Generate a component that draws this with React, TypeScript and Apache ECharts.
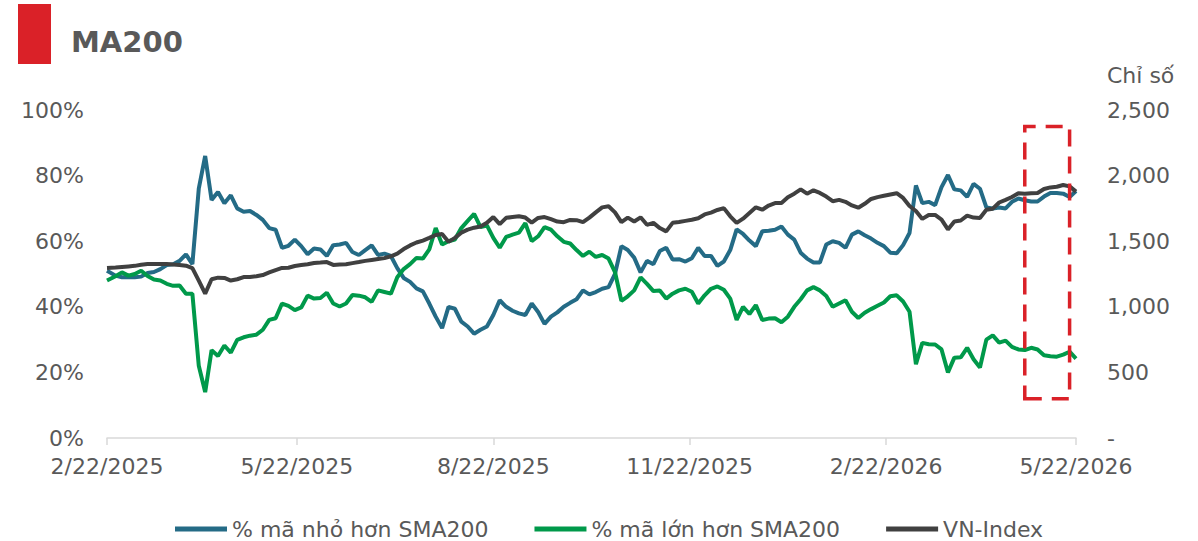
import React, { useEffect, useRef } from "react";
import * as echarts from "echarts";

const TITLE = "MA200";
const RIGHT_AXIS_NAME = "Chỉ số";
const SERIES_NAMES = ["% mã nhỏ hơn SMA200", "% mã lớn hơn SMA200", "VN-Index"];
const TICK_DATES = ["2025-02-22", "2025-05-22", "2025-08-22", "2025-11-22", "2026-02-22", "2026-05-22"];
const HIGHLIGHT = { from: "2026-04-28", to: "2026-05-19", low: 12, high: 95 };

const dates = [
  "2025-02-22","2025-02-26","2025-03-01","2025-03-04","2025-03-07","2025-03-10","2025-03-13","2025-03-16","2025-03-19","2025-03-22",
  "2025-03-25","2025-03-28","2025-03-31","2025-04-03","2025-04-06","2025-04-09","2025-04-12","2025-04-15","2025-04-18","2025-04-21",
  "2025-04-24","2025-04-27","2025-04-30","2025-05-03","2025-05-06","2025-05-09","2025-05-12","2025-05-15","2025-05-18","2025-05-21",
  "2025-05-24","2025-05-27","2025-05-30","2025-06-02","2025-06-05","2025-06-08","2025-06-11","2025-06-14","2025-06-17","2025-06-20",
  "2025-06-23","2025-06-26","2025-06-29","2025-07-02","2025-07-05","2025-07-08","2025-07-11","2025-07-14","2025-07-17","2025-07-20",
  "2025-07-23","2025-07-26","2025-07-29","2025-08-01","2025-08-04","2025-08-07","2025-08-10","2025-08-13","2025-08-16","2025-08-19",
  "2025-08-22","2025-08-25","2025-08-28","2025-08-31","2025-09-03","2025-09-06","2025-09-09","2025-09-12","2025-09-15","2025-09-18",
  "2025-09-21","2025-09-24","2025-09-27","2025-09-30","2025-10-03","2025-10-06","2025-10-09","2025-10-12","2025-10-15","2025-10-18",
  "2025-10-21","2025-10-24","2025-10-27","2025-10-30","2025-11-02","2025-11-05","2025-11-08","2025-11-11","2025-11-14","2025-11-17",
  "2025-11-20","2025-11-23","2025-11-26","2025-11-29","2025-12-02","2025-12-05","2025-12-08","2025-12-11","2025-12-14","2025-12-17",
  "2025-12-20","2025-12-23","2025-12-26","2025-12-29","2026-01-01","2026-01-04","2026-01-07","2026-01-10","2026-01-13","2026-01-16",
  "2026-01-19","2026-01-22","2026-01-25","2026-01-28","2026-01-31","2026-02-03","2026-02-06","2026-02-09","2026-02-12","2026-02-15",
  "2026-02-18","2026-02-21","2026-02-24","2026-02-27","2026-03-02","2026-03-05","2026-03-08","2026-03-11","2026-03-14","2026-03-17",
  "2026-03-20","2026-03-23","2026-03-26","2026-03-29","2026-04-01","2026-04-04","2026-04-07","2026-04-10","2026-04-13","2026-04-16",
  "2026-04-19","2026-04-22","2026-04-25","2026-04-28","2026-05-01","2026-05-04","2026-05-07","2026-05-10","2026-05-13","2026-05-16",
  "2026-05-19","2026-05-22",
];

const belowSma = [
  51,49.5,49,49,49,49.2,50.3,50.6,51.5,52.7,
  53,54,56,53,76,86,72.6,75,71.6,74,
  70,69,69.2,68,66.5,64,63.5,58,58.6,60.5,
  58.5,56,57.8,57.5,55.5,58.8,59,59.5,56.7,55.8,
  57.3,58.7,55.8,56.2,55.5,51.8,48.8,47.6,45.6,44.7,
  41,37,33.5,40,39.4,35.5,34,31.8,33,34,
  37.5,42,40,38.8,38,37.5,41,38.4,34.8,37,
  38.3,40,41.2,42.3,45,43.8,44.5,45.5,46,50,
  58.5,57.3,55,50.5,54,53,57,58,54.4,54.5,
  53.8,54.8,58,55.5,55.5,52.5,53.8,57.3,63.6,62.2,
  60.2,58.5,63,63.2,63.5,64.5,62,60.5,56.5,54.7,
  53.5,53.5,59,60,59.5,58,62,63,61.8,60.8,
  59.5,58.5,56.5,56.3,58.8,62.5,77,71.6,72,71,
  76.5,80.2,75.8,75.5,73.5,77.5,76,70.3,70,70.3,
  70,72,73,72.5,72.1,72.1,73.6,74.7,74.7,74.5,
  73.5,75.3,
];

const aboveSma = [
  48,49.3,50.5,49.5,50,51,49.4,48.3,48,47,
  46.4,46.5,44,44,22,14,26.8,25,28.2,26,
  29.9,30.7,31.2,31.5,33,36,36.5,41,40.3,39,
  39.8,43.4,42.5,42.7,44.3,41,40.1,41,43.6,43.4,
  42.9,41.5,45,44.5,44,49,51.5,53,54.9,54.7,
  57.5,64,59,60,60.5,64,66.2,68.3,64.3,64.8,
  61,58,61.3,62,62.6,65.5,60,61.5,64.3,63.5,
  61.5,59.8,59.3,57.3,55.5,56.8,55.2,55.8,54.7,50.6,
  41.8,43.2,45,49,47,44.8,45,42.5,44,45,
  45.5,44.6,41,43.5,45.5,46.2,45.2,42.5,36,40,
  37.8,40.5,36,36.4,36.5,35.3,37,40,42.3,45,
  46,45,43.3,40,41,42,38.5,36.6,38.2,39.3,
  40.3,41.3,43.2,43.5,41.6,38.5,22.5,29,28.6,28.5,
  27,20,24.5,24.6,27.5,24,21.5,30,31.3,29.1,
  29.7,27.8,27,26.8,27.5,27,25.2,24.9,24.8,25.4,
  26.3,24.2,
];

const vnIndex = [
  1296,1300,1304,1308,1312,1320,1326,1326,1326,1326,
  1322,1318,1313,1295,1200,1100,1210,1222,1220,1200,
  1210,1227,1227,1233,1242,1262,1280,1296,1298,1311,
  1318,1325,1334,1337,1341,1319,1322,1324,1333,1341,
  1350,1357,1364,1371,1385,1405,1440,1468,1490,1505,
  1525,1547,1555,1495,1525,1565,1588,1603,1612,1640,
  1684,1630,1678,1684,1690,1680,1642,1677,1684,1668,
  1650,1645,1662,1660,1645,1680,1720,1758,1766,1720,
  1645,1680,1650,1682,1625,1640,1600,1575,1640,1646,
  1655,1664,1675,1704,1718,1738,1752,1690,1640,1672,
  1715,1758,1740,1772,1791,1791,1835,1862,1895,1862,
  1888,1868,1840,1805,1815,1800,1773,1755,1785,1822,
  1836,1846,1856,1866,1830,1768,1730,1670,1700,1700,
  1665,1590,1650,1658,1695,1680,1677,1740,1748,1795,
  1815,1837,1866,1862,1866,1867,1898,1910,1915,1928,
  1918,1878,
];

const COLORS = ["#246b86", "#00994a", "#404040"];
const TEXT = "#595959";
const FONT = "DejaVu Sans";

function toTs(s: string) {
  const [y, m, d] = s.split("-").map(Number);
  return new Date(y, m - 1, d).getTime();
}

export default function App() {
  const ref = useRef<HTMLDivElement>(null);
  useEffect(() => {
    if (!ref.current) return;
    const chart = echarts.init(ref.current, undefined, { renderer: "svg" });
    const ticks = TICK_DATES.map(toTs);
    const pair = (vals: number[]) => dates.map((d, i) => [toTs(d), vals[i]]);
    const fmtDate = (v: number) => {
      const dt = new Date(v);
      return `${dt.getMonth() + 1}/${dt.getDate()}/${dt.getFullYear()}`;
    };
    chart.setOption({
      animation: false,
      textStyle: { fontFamily: FONT },
      grid: { left: 107, right: 122, top: 110, height: 328 },
      graphic: [
        { type: "rect", left: 18, top: 4, shape: { width: 33, height: 60 }, style: { fill: "#da2128" } },
        {
          type: "text", left: 71, top: 27,
          style: { text: TITLE, fill: TEXT, font: `bold 29px "${FONT}"` },
        },
        {
          type: "text", left: 1107, top: 64,
          style: { text: RIGHT_AXIS_NAME, fill: TEXT, font: `22px "${FONT}"` },
        },
      ],
      legend: {
        left: 170, top: 513,
        itemWidth: 52, itemHeight: 5, itemGap: 46,
        icon: "rect",
        textStyle: { color: TEXT, fontSize: 22, fontFamily: FONT },
        data: SERIES_NAMES,
      },
      xAxis: {
        type: "value",
        min: ticks[0],
        max: ticks[ticks.length - 1],
        axisLine: { show: true, lineStyle: { color: "#d9d9d9", width: 1.5 } },
        axisTick: { show: true, customValues: ticks, length: 7, lineStyle: { color: "#d9d9d9", width: 1.5 } },
        axisLabel: {
          customValues: ticks, formatter: (v: number) => fmtDate(v),
          color: TEXT, fontSize: 22, fontFamily: FONT, margin: 17,
          showMinLabel: true, showMaxLabel: true,
        },
        splitLine: { show: false },
      },
      yAxis: [
        {
          type: "value", min: 0, max: 100, interval: 20,
          axisLine: { show: false }, axisTick: { show: false }, splitLine: { show: false },
          axisLabel: { formatter: (v: number) => `${v}%`, color: TEXT, fontSize: 22, fontFamily: FONT, margin: 23 },
        },
        {
          type: "value", min: 0, max: 2500, interval: 500,
          axisLine: { show: false }, axisTick: { show: false }, splitLine: { show: false },
          axisLabel: {
            formatter: (v: number) => (v === 0 ? "-" : v.toLocaleString("en-US")),
            color: TEXT, fontSize: 22, fontFamily: FONT, margin: 31,
          },
        },
      ],
      series: [
        {
          name: SERIES_NAMES[0], type: "line", yAxisIndex: 0, data: pair(belowSma),
          showSymbol: false, symbol: "none", lineStyle: { width: 4, color: COLORS[0] }, itemStyle: { color: COLORS[0] },
          markArea: {
            silent: true, z: 10,
            itemStyle: { color: "rgba(0,0,0,0)", borderColor: "#da2128", borderWidth: 3.5, borderType: [17, 10] },
            data: [[
              { xAxis: toTs(HIGHLIGHT.from), yAxis: HIGHLIGHT.low },
              { xAxis: toTs(HIGHLIGHT.to), yAxis: HIGHLIGHT.high },
            ]],
          },
        },
        {
          name: SERIES_NAMES[1], type: "line", yAxisIndex: 0, data: pair(aboveSma),
          showSymbol: false, symbol: "none", lineStyle: { width: 4, color: COLORS[1] }, itemStyle: { color: COLORS[1] },
        },
        {
          name: SERIES_NAMES[2], type: "line", yAxisIndex: 1, data: pair(vnIndex),
          showSymbol: false, symbol: "none", lineStyle: { width: 4, color: COLORS[2] }, itemStyle: { color: COLORS[2] },
        },
      ],
    });
    return () => chart.dispose();
  }, []);
  return (
    <div
      ref={ref}
      style={{ position: "absolute", left: 0, top: 0, width: 1198, height: 541, background: "#fff" }}
    />
  );
}
